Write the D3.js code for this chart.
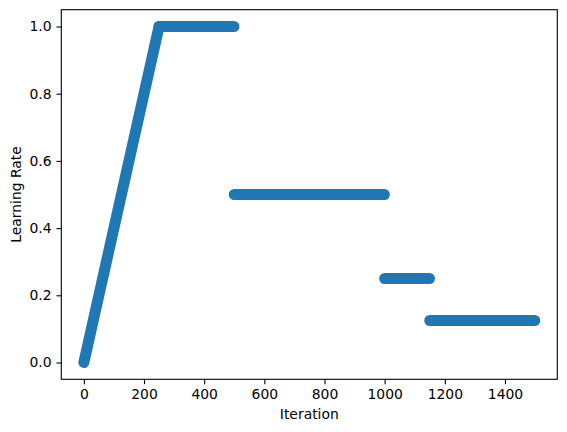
<!DOCTYPE html>
<html>
<head>
<meta charset="utf-8">
<script src="https://cdn.jsdelivr.net/npm/d3@7"></script>
<style>
  body { margin: 0; background: #fff; }
  text { font-family: "DejaVu Sans", sans-serif; }
</style>
</head>
<body>
<script>
// learning-rate schedule, one entry per phase
var phaseStart = [0, 250, 500, 1000, 1150];
var phaseEnd = [250, 499, 999, 1149, 1499];
var lrStart = [0.0, 1.0, 0.5, 0.25, 0.125];
var lrEnd = [1.0, 1.0, 0.5, 0.25, 0.125];

var xTicks = [0, 200, 400, 600, 800, 1000, 1200, 1400];
var yTicks = [0.0, 0.2, 0.4, 0.6, 0.8, 1.0];

// set the dimensions and margins of the graph
var margin = { top: 9.7, right: 9.7, bottom: 52.7, left: 61.3 },
    width = 567 - margin.left - margin.right,
    height = 432 - margin.top - margin.bottom;

var x = d3.scaleLinear().domain([-74.95, 1573.95]).range([0, width]);
var y = d3.scaleLinear().domain([-0.05, 1.05]).range([height, 0]);

var svg = d3.select("body").append("svg")
    .attr("width", 567)
    .attr("height", 432)
    .append("g")
    .attr("transform", "translate(" + margin.left + "," + margin.top + ")");

// phases drawn as thick lines with round caps (looks like the dense scatter)
var phases = phaseStart.map(function (s, i) {
    return { x0: s, x1: phaseEnd[i], y0: lrStart[i], y1: lrEnd[i] };
});

svg.selectAll(".phase")
    .data(phases)
    .enter().append("line")
    .attr("class", "phase")
    .attr("x1", function (d) { return x(d.x0); })
    .attr("x2", function (d) { return x(d.x1); })
    .attr("y1", function (d) { return y(d.y0); })
    .attr("y2", function (d) { return y(d.y1); })
    .attr("stroke", "#1f77b4")
    .attr("stroke-width", 11)
    .attr("stroke-linecap", "round")
    .attr("stroke-linejoin", "round");

// axes
var xAxis = svg.append("g")
    .attr("transform", "translate(0," + height + ")")
    .call(d3.axisBottom(x).tickValues(xTicks).tickFormat(d3.format("d"))
        .tickSizeInner(4.86).tickSizeOuter(0).tickPadding(4.86));

var yAxis = svg.append("g")
    .call(d3.axisLeft(y).tickValues(yTicks).tickFormat(d3.format(".1f"))
        .tickSizeInner(4.86).tickSizeOuter(0).tickPadding(4.86));

[xAxis, yAxis].forEach(function (a) {
    a.select(".domain").remove();
    a.selectAll(".tick line").attr("stroke", "#000").attr("stroke-width", 1.1);
    a.selectAll(".tick text").attr("fill", "#000").style("font-size", "13.9px")
        .style("font-family", "DejaVu Sans, sans-serif");
});

// frame
svg.append("rect")
    .attr("width", width)
    .attr("height", height)
    .attr("fill", "none")
    .attr("stroke", "#000")
    .attr("stroke-width", 1.1);

// labels
svg.append("text")
    .attr("x", width / 2)
    .attr("y", height + 40)
    .attr("text-anchor", "middle")
    .style("font-size", "13.9px")
    .text("Iteration");

svg.append("text")
    .attr("transform", "rotate(-90)")
    .attr("x", -height / 2)
    .attr("y", -40.6)
    .attr("text-anchor", "middle")
    .style("font-size", "13.9px")
    .text("Learning Rate");
</script>
</body>
</html>
